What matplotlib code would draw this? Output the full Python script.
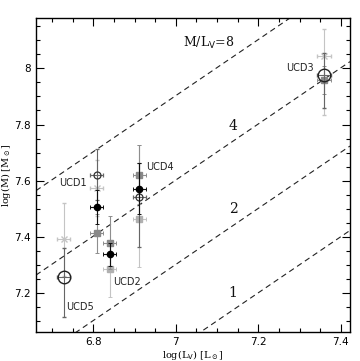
import matplotlib
matplotlib.use("Agg")
import matplotlib.pyplot as plt
import numpy as np
from matplotlib.ticker import MultipleLocator

# ---- data ----
ml_ratios = [8, 4, 2, 1]

open_small_x = [6.808, 6.911]
open_small_y = [7.621, 7.542]
open_small_yerr_lo = [0.09, 0.18]
open_small_yerr_hi = [0.09, 0.12]

open_big_x = [7.359, 6.728]
open_big_y = [7.975, 7.255]
open_big_yerr_lo = [0.115, 0.14]
open_big_yerr_hi = [0.08, 0.105]

black_x = [6.808, 6.840, 6.911]
black_y = [7.505, 7.337, 7.571]
black_yerr = [0.06, 0.04, 0.09]

gray_x = [6.808, 6.840, 6.911, 7.359]
gray_y = [7.412, 7.379, 7.621, 7.960]
gray_yerr = [0.07, 0.094, 0.105, 0.05]

lightx_x = [6.808, 6.728, 7.359]
lightx_y = [7.572, 7.391, 8.045]
lightx_yerr_lo = [0.10, 0.13, 0.21]
lightx_yerr_hi = [0.10, 0.13, 0.095]

lightsq_x = [6.840, 6.911]
lightsq_y = [7.286, 7.462]
lightsq_yerr_lo = [0.10, 0.17]
lightsq_yerr_hi = [0.10, 0.265]

xerr_all = 0.016

labels = ["UCD1", "UCD2", "UCD3", "UCD4", "UCD5"]
label_x = [6.750, 6.882, 7.302, 6.961, 6.767]
label_y = [7.591, 7.239, 8.000, 7.648, 7.150]

ml_label_text = [r"M/L$_{\rm V}$=8", "4", "2", "1"]
ml_label_x = [7.080, 7.139, 7.139, 7.139]
ml_label_y = [8.091, 7.795, 7.498, 7.198]

# ---- figure ----
fig = plt.figure(figsize=(3.6, 3.61), dpi=100)
ax = fig.add_axes([0.100, 0.0803, 0.872, 0.870])
xlim = (6.661, 7.422)
ylim = (7.06, 8.18)

xx = np.array(xlim)
for r in ml_ratios:
    ax.plot(xx, xx + np.log10(r), ls=(0, (5, 3.5)), color="#222222", lw=0.8, zorder=1)

ek = dict(capsize=1.5, capthick=0.7, elinewidth=0.8, ls="none")

ax.errorbar(lightx_x, lightx_y, yerr=[lightx_yerr_lo, lightx_yerr_hi], xerr=xerr_all,
            marker="x", ms=4, mew=1.0, color="#c4c4c4", ecolor="#c4c4c4", zorder=2, **ek)
ax.errorbar(lightsq_x, lightsq_y, yerr=[lightsq_yerr_lo, lightsq_yerr_hi], xerr=xerr_all,
            marker="s", ms=4, color="#b0b0b0", ecolor="#c4c4c4", zorder=2, **ek)
ax.errorbar(gray_x, gray_y, yerr=gray_yerr, xerr=xerr_all,
            marker="s", ms=4.5, color="#888888", ecolor="#8e8e8e", zorder=3, **ek)
ax.errorbar(open_small_x, open_small_y, yerr=[open_small_yerr_lo, open_small_yerr_hi], xerr=xerr_all,
            marker="o", ms=5, mfc="none", mec="#333333", mew=0.9, color="#666666",
            ecolor="#666666", zorder=4, **ek)
ax.errorbar(open_big_x, open_big_y, yerr=[open_big_yerr_lo, open_big_yerr_hi], xerr=xerr_all,
            marker="o", ms=9, mfc="none", mec="#222222", mew=1.0, color="#666666",
            ecolor="#666666", zorder=4, **ek)
ax.errorbar(black_x, black_y, yerr=black_yerr, xerr=xerr_all,
            marker="o", ms=4.5, color="black", ecolor="#111111", zorder=5, **ek)

for t, x, y in zip(labels, label_x, label_y):
    ax.text(x, y, t, fontsize=7, ha="center", va="center", family="DejaVu Sans", color="#222222")

for i, (t, x, y) in enumerate(zip(ml_label_text, ml_label_x, ml_label_y)):
    ax.text(x, y, t, fontsize=9 if i == 0 else 10, ha="center", va="center",
            family="DejaVu Serif", color="#111111")

ax.set_xlim(xlim)
ax.set_ylim(ylim)
ax.xaxis.set_major_locator(MultipleLocator(0.2))
ax.xaxis.set_minor_locator(MultipleLocator(0.05))
ax.yaxis.set_major_locator(MultipleLocator(0.2))
ax.yaxis.set_minor_locator(MultipleLocator(0.05))
ax.set_xticks([6.8, 7.0, 7.2, 7.4])
ax.set_xticklabels(["6.8", "7", "7.2", "7.4"])
ax.set_yticks([7.2, 7.4, 7.6, 7.8, 8.0])
ax.set_yticklabels(["7.2", "7.4", "7.6", "7.8", "8"])
ax.tick_params(which="both", direction="in", top=True, right=True, labelsize=7.5, width=0.8)
ax.tick_params(which="major", length=6)
ax.tick_params(which="minor", length=3)
for s in ax.spines.values():
    s.set_linewidth(1.0)

ax.set_xlabel(r"log(L$_{\rm V}$) [L$_\odot$]", fontsize=7, family="DejaVu Serif", labelpad=1)
ax.set_ylabel(r"log(M) [M$_\odot$]", fontsize=7, family="DejaVu Serif", labelpad=1)

fig.savefig("out.png", dpi=100)
